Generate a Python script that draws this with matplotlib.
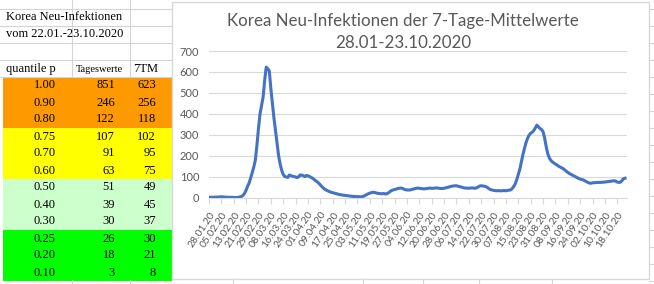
import matplotlib.pyplot as plt
import pandas as pd
from matplotlib.patches import Rectangle

# table on the left of the sheet
quantiles = ['1.00', '0.90', '0.80', '0.75', '0.70', '0.60',
             '0.50', '0.40', '0.30', '0.25', '0.20', '0.10']
tageswerte = [851, 246, 122, 107, 91, 63, 51, 39, 30, 26, 18, 3]
tm7 = [623, 256, 118, 102, 95, 75, 49, 45, 37, 30, 21, 8]
row_colors = ['#FF9900'] * 3 + ['#FFFF00'] * 3 + ['#CCFFCC'] * 3 + ['#00FF00'] * 3

# 7-day means 28.01.2020 - 23.10.2020
dates = pd.date_range('2020-01-28', '2020-10-23')
avg7 = [
    1, 1, 1, 1, 2, 2, 2, 3, 3, 3, 2, 2, 1, 1, 1, 1, 0, 0, 0, 1,
    3, 5, 10, 20, 35, 55, 70, 95, 120, 147, 180, 250, 330, 400, 440, 480,
    560, 623, 615, 605, 520, 450, 380, 320, 260, 200, 160, 130, 110, 100,
    98, 96, 108, 104, 102, 100, 98, 95, 100, 108, 107, 104, 100, 105, 104, 100,
    96, 92, 86, 80, 75, 68, 60, 52, 45, 39, 35, 31, 28, 25, 23, 21,
    19, 17, 15, 13, 12, 11, 10, 9, 8, 7, 6, 5, 5, 4, 4, 4, 3, 4,
    6, 10, 14, 18, 21, 23, 25, 24, 22, 20, 19, 18, 18, 19, 17, 18,
    22, 28, 33, 36, 38, 40, 43, 44, 45, 44, 40, 37, 36, 36, 36, 38,
    40, 42, 44, 45, 44, 43, 42, 41, 42, 43, 44, 45, 44, 44, 45, 46,
    45, 44, 43, 43, 44, 46, 48, 50, 52, 54, 55, 56, 56, 54, 52, 50,
    48, 46, 45, 45, 44, 45, 46, 45, 44, 46, 50, 55, 56, 55, 54, 52,
    48, 42, 38, 36, 34, 33, 32, 33, 32, 32, 33, 33, 32, 34, 35, 36,
    42, 52, 65, 85, 110, 135, 170, 205, 235, 262, 283, 298, 307, 312, 320, 332,
    346, 338, 330, 325, 315, 285, 245, 211, 190, 178, 170, 165, 160, 155, 150, 146,
    142, 138, 132, 126, 120, 115, 111, 107, 103, 99, 95, 91, 88, 86, 84, 80,
    76, 72, 69, 68, 70, 71, 71, 72, 72, 72, 73, 73, 74, 75, 76, 77,
    78, 79, 80, 78, 74, 72, 73, 80, 90, 92,
]
tick_labels = dates.strftime('%d.%m.%y')

W, H = 654, 284
fig = plt.figure(figsize=(W / 100, H / 100), dpi=100)

# sheet background in pixel coordinates
bg = fig.add_axes([0, 0, 1, 1])
bg.set_xlim(0, W)
bg.set_ylim(H, 0)
bg.axis('off')

grid_c = '#d4d4d4'
for y in [9, 26, 43, 60, 77]:
    bg.plot([0, 172], [y, y], color=grid_c, lw=0.8)
for x in [72, 130]:
    bg.plot([x, x], [0, 77], color=grid_c, lw=0.8)
    bg.plot([x, x], [280, H], color=grid_c, lw=0.8)
for y in range(9, H, 17):
    bg.plot([649, W], [y, y], color=grid_c, lw=0.8)
for x in [233, 363, 423, 479, 552]:
    bg.plot([x, x], [279, H], color=grid_c, lw=0.8)

serif = 'Liberation Serif'
bg.text(6, 17, 'Korea Neu-Infektionen', family=serif, fontsize=9, va='center')
bg.text(6, 34, 'vom 22.01.-23.10.2020', family=serif, fontsize=9, va='center')
bg.text(6, 69, 'quantile p', family=serif, fontsize=9, va='center')
bg.text(76, 69, 'Tageswerte', family=serif, fontsize=7.5, va='center')
bg.text(133, 69, '7TM', family=serif, fontsize=9, va='center')

for i, (q, t, m) in enumerate(zip(quantiles, tageswerte, tm7)):
    top = 77 + 17 * i
    bg.add_patch(Rectangle((3, top), 169, 17, facecolor=row_colors[i], edgecolor='none'))
    yc = top + 8.5
    bg.text(56, yc, q, family=serif, fontsize=9, ha='right', va='center')
    bg.text(115, yc, str(t), family=serif, fontsize=9, ha='right', va='center')
    bg.text(156, yc, str(m), family=serif, fontsize=9, ha='right', va='center')

# chart frame
bg.add_patch(Rectangle((172, 2), 477, 277, facecolor='white', edgecolor='#d9d9d9', lw=1))
bg.text(403, 21, 'Korea Neu-Infektionen der 7-Tage-Mittelwerte', family='Lato',
        fontsize=12.2, color='#595959', ha='center', va='center')
bg.text(403, 43, '28.01-23.10.2020', family='Lato',
        fontsize=12.2, color='#595959', ha='center', va='center')

# chart
ax = fig.add_axes([209 / W, 1 - 197.5 / H, (627 - 209) / W, (197.5 - 51) / H])
ax.plot(range(len(avg7)), avg7, color='#4472C4', lw=2.2, solid_joinstyle='round')
ax.set_xlim(0, 270.3)
ax.set_ylim(0, 700)
ax.set_yticks(range(0, 701, 100))
ax.yaxis.grid(True, color='#d9d9d9', lw=0.8)
ax.set_axisbelow(True)
ax.patch.set_alpha(0)
for s in ['top', 'right', 'left']:
    ax.spines[s].set_visible(False)
ax.spines['bottom'].set_color('#d9d9d9')
ax.tick_params(axis='y', length=0, pad=7, labelsize=8, labelcolor='#595959')
ax.set_xticks(range(0, len(avg7), 8))
ax.set_xticklabels(tick_labels[::8], rotation=56, ha='right', va='top',
                   rotation_mode='anchor', fontsize=7.5, color='#595959')
ax.tick_params(axis='x', length=4, color='#d9d9d9', pad=5)
for lab in ax.get_xticklabels() + ax.get_yticklabels():
    lab.set_family('Lato')

fig.savefig('out.png', dpi=100)
